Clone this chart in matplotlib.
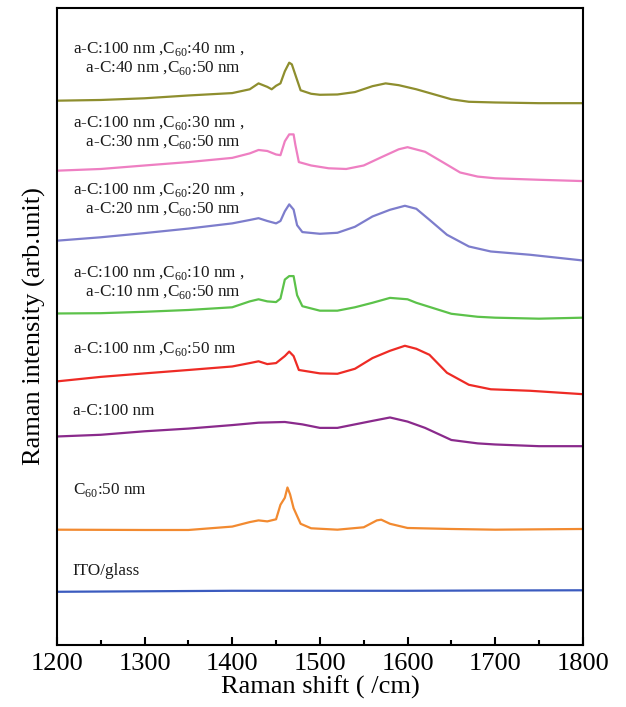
import matplotlib
matplotlib.use('Agg')
import matplotlib.pyplot as plt
from matplotlib.ticker import MultipleLocator

plt.rcParams['font.family'] = 'Liberation Serif'
plt.rcParams['mathtext.fontset'] = 'custom'
plt.rcParams['mathtext.rm'] = 'Liberation Serif'

# Raman spectra, stacked (arb. unit, offset already included)
x_olive = [1200, 1250, 1300, 1350, 1400, 1420, 1430, 1440, 1445, 1450, 1455, 1460, 1465, 1468, 1472, 1478,
           1490, 1500, 1520, 1540, 1560, 1575, 1590, 1610, 1630, 1650, 1670, 1700, 1750, 1800]
y_olive = [544.1, 544.8, 546.5, 549.3, 551.7, 555.5, 561.4, 557.9, 555.5, 559.0, 561.4, 573.5, 582.1, 580.4,
           570.0, 554.5, 551.0, 550.0, 550.3, 552.7, 558.6, 561.4, 559.6, 555.5, 550.5, 545.5, 543.0, 542.3,
           541.6, 541.6]

x_pink = [1200, 1250, 1300, 1350, 1400, 1420, 1430, 1440, 1450, 1455, 1460, 1465, 1470, 1472, 1476, 1490,
          1510, 1530, 1550, 1570, 1590, 1600, 1620, 1640, 1660, 1680, 1700, 1750, 1800]
y_pink = [474.1, 475.8, 479.3, 482.7, 486.9, 491.4, 494.8, 493.8, 490.3, 489.6, 503.5, 510.4, 510.4, 500.0,
          482.7, 479.3, 476.5, 475.8, 479.3, 487.5, 495.5, 497.6, 493.0, 482.7, 472.3, 468.2, 466.5, 465.0,
          463.7]

x_lav = [1200, 1250, 1300, 1350, 1400, 1420, 1430, 1440, 1450, 1455, 1460, 1465, 1470, 1474, 1480, 1500,
         1520, 1540, 1560, 1580, 1597, 1610, 1625, 1645, 1670, 1695, 1740, 1800]
y_lav = [404.1, 407.5, 411.7, 416.2, 421.4, 424.8, 426.6, 423.8, 421.4, 423.8, 433.5, 440.4, 435.2, 419.6,
         412.7, 411.0, 412.0, 418.0, 428.3, 435.0, 439.0, 436.0, 425.0, 410.0, 398.3, 393.3, 390.0, 384.3]

x_green = [1200, 1250, 1300, 1350, 1400, 1420, 1430, 1440, 1450, 1455, 1460, 1465, 1470, 1474, 1480, 1500,
           1520, 1540, 1560, 1580, 1600, 1610, 1630, 1650, 1680, 1700, 1750, 1800]
y_green = [331.3, 331.6, 333.0, 334.8, 337.5, 343.4, 345.5, 343.4, 342.7, 346.2, 365.2, 368.7, 368.7, 349.6,
           338.6, 334.1, 334.1, 337.5, 342.0, 346.9, 345.5, 342.0, 336.5, 331.0, 328.0, 327.1, 326.1, 327.1]

x_red = [1200, 1250, 1300, 1350, 1400, 1420, 1430, 1440, 1450, 1460, 1465, 1470, 1476, 1500, 1520, 1540,
         1560, 1580, 1597, 1610, 1625, 1645, 1670, 1695, 1740, 1800]
y_red = [263.4, 267.9, 271.4, 274.8, 278.3, 281.7, 283.5, 280.7, 281.7, 288.7, 293.2, 288.7, 274.8, 271.4,
         271.0, 276.0, 286.7, 294.0, 299.0, 296.0, 290.0, 272.0, 260.0, 255.5, 254.0, 250.6]

x_purple = [1200, 1250, 1300, 1350, 1400, 1430, 1460, 1480, 1500, 1520, 1540, 1560, 1580, 1600, 1620, 1650,
            1680, 1700, 1750, 1800]
y_purple = [208.3, 210.0, 213.5, 216.2, 219.7, 222.1, 222.8, 220.4, 216.9, 216.9, 220.4, 223.9, 227.3, 223.2,
            216.9, 204.8, 201.4, 200.3, 198.6, 198.6]

x_orange = [1200, 1300, 1350, 1400, 1420, 1430, 1440, 1450, 1455, 1460, 1463, 1466, 1470, 1478, 1490, 1520,
            1550, 1565, 1570, 1580, 1600, 1650, 1700, 1800]
y_orange = [115.1, 114.8, 114.8, 118.2, 122.7, 124.4, 123.4, 125.5, 140.0, 147.0, 157.3, 150.4, 136.6, 121.0,
            116.5, 115.1, 117.5, 124.4, 125.1, 121.0, 116.8, 115.8, 115.1, 115.8]

x_ito = [1200, 1300, 1400, 1500, 1600, 1700, 1800]
y_ito = [53.0, 53.5, 54.0, 54.0, 54.0, 54.3, 54.5]

series = [
    (x_olive, y_olive, '#8e8e2e'),
    (x_pink, y_pink, '#ee7fc2'),
    (x_lav, y_lav, '#7d7dcc'),
    (x_green, y_green, '#5cc24a'),
    (x_red, y_red, '#ee2b25'),
    (x_purple, y_purple, '#8a2a8c'),
    (x_orange, y_orange, '#f28a30'),
    (x_ito, y_ito, '#3b5bbf'),
]

labels = [
    (1218, 586, 'a-C:100 nm ,C$_{60}$:40 nm ,\n   a-C:40 nm ,C$_{60}$:50 nm'),
    (1218, 512, 'a-C:100 nm ,C$_{60}$:30 nm ,\n   a-C:30 nm ,C$_{60}$:50 nm'),
    (1218, 445, 'a-C:100 nm ,C$_{60}$:20 nm ,\n   a-C:20 nm ,C$_{60}$:50 nm'),
    (1218, 362, 'a-C:100 nm ,C$_{60}$:10 nm ,\n   a-C:10 nm ,C$_{60}$:50 nm'),
    (1218, 296, 'a-C:100 nm ,C$_{60}$:50 nm'),
    (1218, 234, 'a-C:100 nm'),
    (1218, 155, 'C$_{60}$:50 nm'),
    (1218, 74, 'ITO/glass'),
]

fig = plt.figure(figsize=(6.26, 7.07), dpi=100)
ax = fig.add_axes([0.091, 0.088, 0.840, 0.901])

for xs, ys, c in series:
    ax.plot(xs, ys, color=c, lw=1.6)

for x, y, t in labels:
    ax.text(x, y, t, fontsize=12.3, va='center', ha='left', color='#1a1a1a', linespacing=1.1)

ax.set_xlim(1200, 1800)
ax.set_ylim(0, 637)
ax.set_yticks([])
ax.xaxis.set_major_locator(MultipleLocator(100))
ax.xaxis.set_minor_locator(MultipleLocator(50))
ax.tick_params(axis='x', which='major', direction='in', length=6, width=1.5, labelsize=19, pad=6)
ax.tick_params(axis='x', which='minor', direction='in', length=3.5, width=1.5)
for s in ax.spines.values():
    s.set_linewidth(1.5)
ax.set_xlabel('Raman shift ( /cm)', fontsize=19, labelpad=0)
ax.set_ylabel('Raman intensity (arb.unit)', fontsize=19, labelpad=8)

fig.savefig('out.png', dpi=100)
